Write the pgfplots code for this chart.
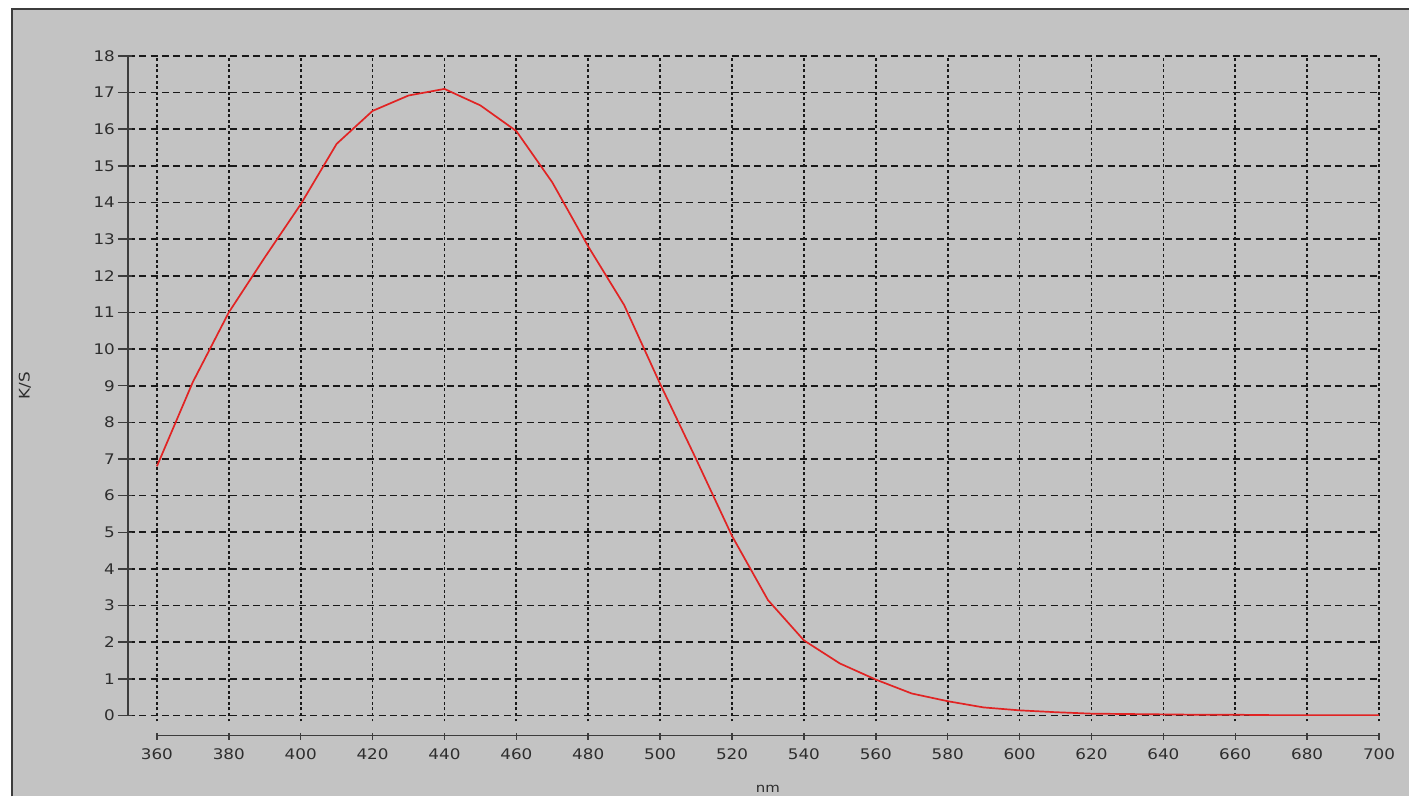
\documentclass[border=0pt]{standalone}
\usepackage{fontspec}
\setmainfont{DejaVu Sans}[FakeStretch=1.15]
\usepackage{pgfplots}
\pgfplotsset{compat=1.18}
\definecolor{panel}{RGB}{195,195,195}
\definecolor{frame}{RGB}{60,60,60}
\definecolor{gridc}{RGB}{25,25,25}
\definecolor{curve}{RGB}{225,35,35}
\definecolor{txt}{RGB}{45,45,45}

\begin{document}
\begin{tikzpicture}
% panel behind the chart
\fill[white] (0,0) rectangle (705pt,398.5pt);
\fill[panel] (6pt,0) rectangle (705pt,394pt);
\draw[frame, line width=1pt] (6pt,0) -- (6pt,394pt) -- (705pt,394pt);
\begin{axis}[
  at={(78.5pt,40.5pt)}, anchor=south west,
  scale only axis, width=611.5pt, height=330pt,
  xmin=360, xmax=700, ymin=0, ymax=18,
  xtick={360,380,...,700}, ytick={0,1,...,18},
  axis line style={draw=none}, major tick length=0pt,
  tick label style={font=\fontsize{7.3}{8}\selectfont, text=txt},
  xticklabel style={yshift=-13pt},
  yticklabel style={xshift=-17.5pt},
  /pgf/number format/assume math mode=true,
  clip=false,
]
% grid
\pgfplotsinvokeforeach{0,...,18}{
  \draw[gridc, line width=0.85pt, dash pattern=on 3.5pt off 2.2pt]
    (axis cs:351.94,#1) -- (axis cs:700,#1);
}
\pgfplotsinvokeforeach{360,380,...,700}{
  \draw[gridc, line width=0.85pt, dash pattern=on 1.5pt off 1.3pt]
    (axis cs:#1,-0.164) -- (axis cs:#1,18);
}
% offset axis lines and ticks
\draw[frame, line width=0.9pt] (axis cs:351.94,0) -- (axis cs:351.94,18);
\pgfplotsinvokeforeach{0,...,18}{
  \draw[frame, line width=0.75pt] (axis cs:349.16,#1) -- (axis cs:353.05,#1);
}
\draw[frame, line width=0.9pt] (axis cs:360,-0.545) -- (axis cs:700,-0.545);
\pgfplotsinvokeforeach{360,380,...,700}{
  \draw[frame, line width=0.75pt] (axis cs:#1,-0.49) -- (axis cs:#1,-0.68);
}
\node[font=\fontsize{7.3}{8}\selectfont, text=txt, rotate=90] at (axis cs:323.3,9) {K/S};
\node[font=\fontsize{6.5}{8}\selectfont, text=txt] at (axis cs:530,-1.99) {nm};

\addplot[curve, line width=0.85pt] coordinates {
  (360,6.8) (370,9.1) (380,11.0) (390,12.5) (400,13.95) (410,15.6)
  (420,16.5) (430,16.92) (440,17.1) (450,16.65) (460,15.95) (470,14.55)
  (480,12.8) (490,11.2) (500,9.05) (510,7.0) (520,4.9) (530,3.15)
  (540,2.05) (550,1.42) (560,0.98) (570,0.6) (580,0.39) (590,0.22)
  (600,0.14) (610,0.09) (620,0.05) (630,0.04) (640,0.03) (650,0.02)
  (660,0.02) (670,0.01) (680,0.01) (690,0.01) (700,0.01)
};
\end{axis}
\end{tikzpicture}
\end{document}
